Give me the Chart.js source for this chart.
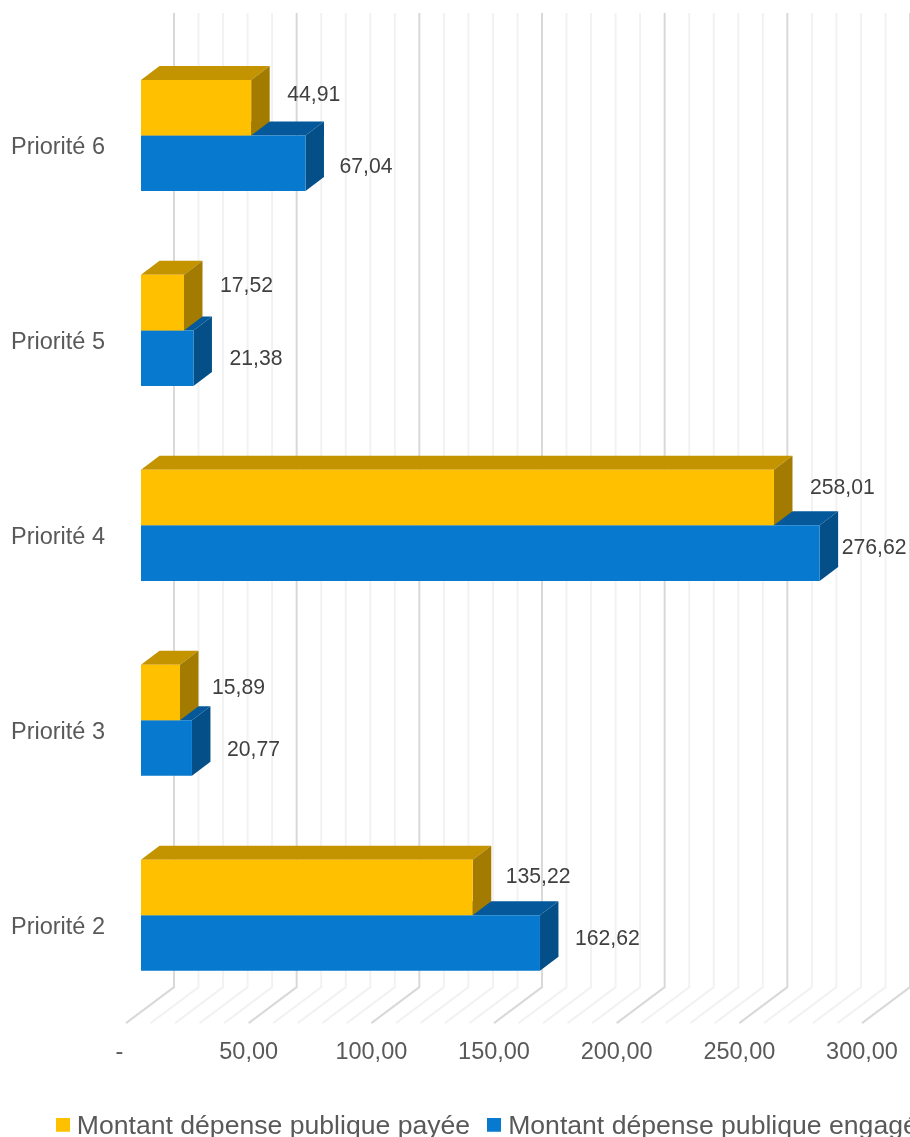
<!DOCTYPE html>
<html lang="fr">
<head>
<meta charset="utf-8">
<style>
html,body{margin:0;padding:0;background:#fff;overflow:hidden;width:910px;height:1137px}
canvas{display:block}
</style>
<script src="https://cdn.jsdelivr.net/npm/chart.js@4"></script>
</head>
<body>
<canvas id="c" width="1040" height="1150"></canvas>
<script>
const categories = ["Priorité 6","Priorité 5","Priorité 4","Priorité 3","Priorité 2"];
const seriesNames = ["Montant dépense publique payée","Montant dépense publique engagée"];
const payee = [44.91,17.52,258.01,15.89,135.22];
const engagee = [67.04,21.38,276.62,20.77,162.62];
const axisMax = 300, axisStep = 10, axisLabelEvery = 50;

// value-label nudges (px from the end of each bar)
const labelGapX = [[36,36,36,32,33],[34,36,22,35,35]];
const labelGapY = [[-13,-16,-9,-4,-10],[3.5,0.5,-4.5,2.5,-3.5]];

const front = ["#FFC000","#0779CE"];
const topFace = ["#C49300","#05599B"];
const sideFace = ["#A27B00","#044F87"];
const FONT = '"Liberation Sans", Arial, sans-serif';
const W = 1040;
const plotRight = 877;

function fr(v){ return v.toFixed(2).replace('.',','); }
function swatch(color){
  const s = document.createElement('canvas'); s.width = 14; s.height = 18;
  const g = s.getContext('2d'); g.fillStyle = color; g.fillRect(0,0,14,14);
  return s;
}
function poly(ctx, pts, fill){
  ctx.beginPath();
  pts.forEach((p,i)=> i ? ctx.lineTo(p[0],p[1]) : ctx.moveTo(p[0],p[1]));
  ctx.closePath();
  ctx.fillStyle = fill; ctx.fill();
}
function noMargins(s){ s.paddingTop = 0; s.paddingBottom = 0; s.paddingLeft = 0; s.paddingRight = 0; }

const box3d = {
  id:'box3d',
  beforeDatasetsDraw(chart){
    const ctx = chart.ctx, xs = chart.scales.x, a = chart.chartArea;
    ctx.save();
    // wall and floor gridlines, one polyline per axis tick
    const wallTop = a.top - 25, corner = a.bottom - 25.5, floor = a.bottom + 10.5;
    const draw = (major)=>{
      xs.ticks.forEach(t=>{
        const isMajor = t.value % axisLabelEvery === 0;
        if (isMajor !== major) return;
        const p = xs.getPixelForValue(t.value);
        ctx.beginPath();
        ctx.moveTo(p+33, wallTop);
        ctx.lineTo(p+33, corner);
        ctx.lineTo(p-15, floor);
        ctx.strokeStyle = major ? '#D9D9D9' : '#F2F2F2';
        ctx.lineWidth = 2;
        ctx.stroke();
      });
    };
    draw(false); draw(true);
    // depth faces: lower series first so the upper one sits on top of it
    const dx = 18.5, dy = 14;
    categories.forEach((_,i)=>{
      [1,0].forEach(ds=>{
        const el = chart.getDatasetMeta(ds).data[i];
        const t = el.y - el.height/2, b = el.y + el.height/2, l = el.base, r = el.x;
        poly(ctx,[[l,t],[l+dx,t-dy],[r+dx,t-dy],[r,t]],topFace[ds]);
        poly(ctx,[[r,t],[r+dx,t-dy],[r+dx,b-dy],[r,b]],sideFace[ds]);
      });
    });
    ctx.restore();
  },
  afterDatasetsDraw(chart){
    const ctx = chart.ctx;
    ctx.save();
    ctx.font = '21.2px ' + FONT;
    ctx.fillStyle = '#404040';
    ctx.textAlign = 'left';
    ctx.textBaseline = 'middle';
    chart.data.datasets.forEach((d,ds)=>{
      chart.getDatasetMeta(ds).data.forEach((el,i)=>{
        ctx.fillText(fr(d.data[i]), el.x + labelGapX[ds][i], el.y + labelGapY[ds][i]);
      });
    });
    ctx.restore();
  }
};

new Chart(document.getElementById('c'),{
  type:'bar',
  data:{
    labels:categories,
    datasets:[
      {label:seriesNames[0],data:payee,backgroundColor:front[0],borderWidth:0,categoryPercentage:0.57,barPercentage:1},
      {label:seriesNames[1],data:engagee,backgroundColor:front[1],borderWidth:0,categoryPercentage:0.57,barPercentage:1}
    ]
  },
  plugins:[box3d],
  options:{
    indexAxis:'y',
    responsive:false,
    animation:false,
    events:[],
    layout:{padding:{left:38.75,top:38,right:0,bottom:0}},
    scales:{
      x:{
        type:'linear',min:0,max:axisMax,
        grid:{display:false,drawTicks:false},
        border:{display:false},
        afterFit(s){ s.height = 77; noMargins(s); },
        ticks:{
          stepSize:axisStep,autoSkip:false,maxRotation:0,minRotation:0,
          labelOffset:-15,padding:26,color:'#595959',
          font:{family:FONT,size:23.5},
          callback(v){
            if (v % axisLabelEvery !== 0) return '';
            return v === 0 ? '-  ' : fr(v);
          }
        }
      },
      y:{
        type:'category',
        grid:{display:false,drawTicks:false},
        border:{display:false},
        afterFit(s){ s.width = 102.25; noMargins(s); },
        ticks:{
          mirror:true,padding:-130,labelOffset:12,color:'#595959',
          font:{family:FONT,size:23.5}
        }
      },
      rightSpacer:{
        axis:'y',type:'linear',position:'right',
        grid:{display:false,drawTicks:false},
        border:{display:false},
        ticks:{display:false},
        afterFit(s){ s.width = W - plotRight; noMargins(s); }
      }
    },
    plugins:{
      tooltip:{enabled:false},
      title:{display:false},
      legend:{
        display:true,position:'bottom',align:'start',
        labels:{
          usePointStyle:true,pointStyleWidth:1,
          padding:23.75,color:'#595959',
          font:{family:FONT,size:26.6},
          generateLabels(chart){
            const items = Chart.defaults.plugins.legend.labels.generateLabels(chart);
            items.forEach((it,i)=>{ it.pointStyle = swatch(front[i]); });
            return items;
          }
        }
      }
    }
  }
});
</script>
</body>
</html>
